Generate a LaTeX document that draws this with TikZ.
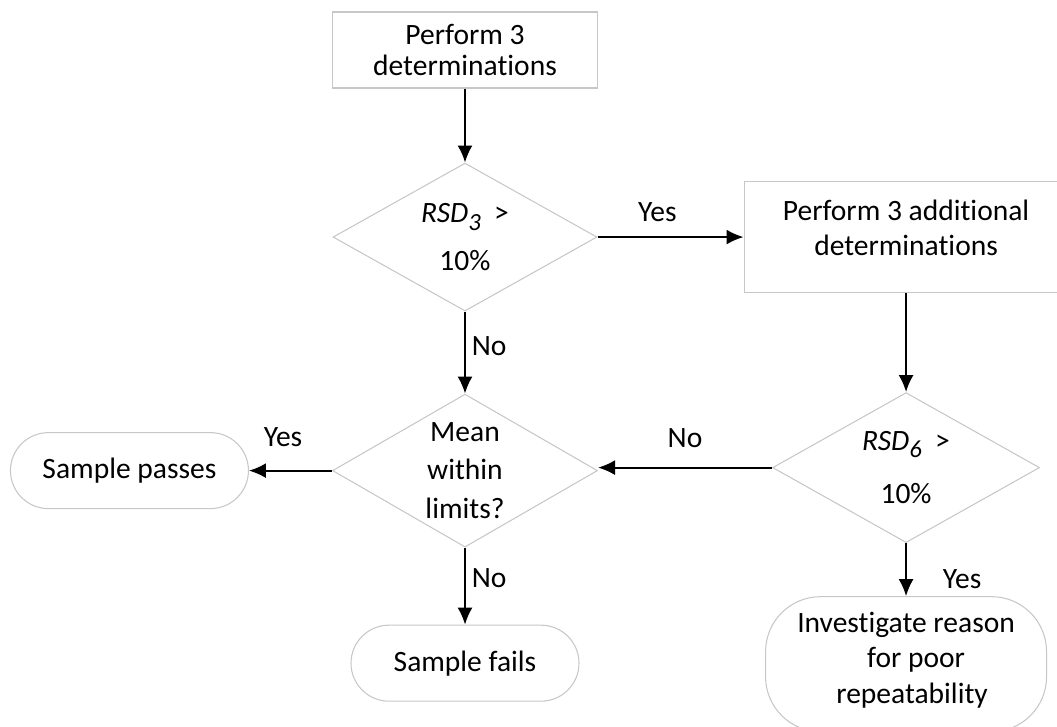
\documentclass[tikz,border=0pt]{standalone}
\usepackage{fontspec}
\setmainfont{Carlito}[Ligatures=NoCommon]
\usetikzlibrary{shapes.geometric,positioning,arrows.meta}
\tikzset{
  shape line/.style={draw=black!22,line width=0.6pt},
  stepbox/.style={shape line,rectangle},
  decision/.style={shape line,diamond,inner sep=0pt},
  terminal/.style={shape line,rectangle,rounded corners=#1},
  terminal/.default=0.76cm,
  txt/.style={align=center,inner sep=0pt,font=\fontsize{16.8}{17.6}\selectfont},
  edgetext/.style={font=\fontsize{16.8}{17.6}\selectfont},
  flow/.style={->,line width=1.1pt}
}
\newcommand{\fnode}[4][0pt]{\node(#2)[#3]{};\node(#2-txt)[txt] at ([yshift=#1]#2.center){#4};}
\newcommand{\rsd}[1]{\textit{RSD}\raisebox{-0.55ex}{\fontsize{14}{14}\selectfont\textit{#1}}\ \ >}

\begin{document}
\begin{tikzpicture}[>={Latex[length=3.4mm,width=3mm]},node distance=1.5cm]
\useasboundingbox (0,0) rectangle (21.14,-14.52);

\fnode{det3}{stepbox,minimum width=5.3cm,minimum height=1.52cm,at={(9.3,-1)}}{Perform 3\\determinations}
\fnode{rsd3}{decision,minimum width=5.28cm,minimum height=2.96cm,below=1.48cm of det3}{\rsd{3}\\[10pt]10\%}
\fnode[0.18cm]{det6}{stepbox,minimum width=6.48cm,minimum height=2.22cm,right=2.92cm of rsd3}{Perform 3 additional\\[2.3pt]determinations}
\fnode{rsd6}{decision,minimum width=5.34cm,minimum height=3cm,below=1.98cm of det6}{\rsd{6}\\[13pt]10\%}
\fnode{mean}{decision,minimum width=5.3cm,minimum height=3.06cm,below=1.64cm of rsd3}{Mean\\[4.5pt]within\\[4.5pt]limits?}
\fnode{passes}{terminal,minimum width=4.76cm,minimum height=1.52cm,left=1.66cm of mean}{Sample passes}
\fnode{fails}{terminal,minimum width=4.56cm,minimum height=1.52cm,below=1.54cm of mean}{Sample fails}
\fnode[0.08cm]{invest}{terminal=1.1cm,minimum width=5.62cm,minimum height=2.7cm,below=1.06cm of rsd6}{Investigate reason\\[2.8pt]\hspace*{0.4cm}for poor\\[2.8pt]\hspace*{0.24cm}repeatability}

\draw[flow] (det3) -- (rsd3);
\draw[flow] (rsd3.east) -- (rsd3.east -| det6.west) node(yes1)[edgetext,above=0.18cm,pos=0.41]{Yes};
\draw[flow] (rsd3) -- (mean) node(no1)[edgetext,right,pos=0.42]{No};
\draw[flow] (det6) -- (rsd6);
\draw[flow] (rsd6.west) -- (rsd6.west -| mean.east) node(no2)[edgetext,above=0.26cm,midway]{No};
\draw[flow] (mean) -- (passes) node(yes2)[edgetext,above=0.34cm,pos=0.59]{Yes};
\draw[flow] (mean) -- (fails) node(no3)[edgetext,right,pos=0.4]{No};
\draw[flow] (rsd6) -- (invest) node(yes3)[edgetext,right=0.6cm,pos=0.68]{Yes};

\end{tikzpicture}
\end{document}
